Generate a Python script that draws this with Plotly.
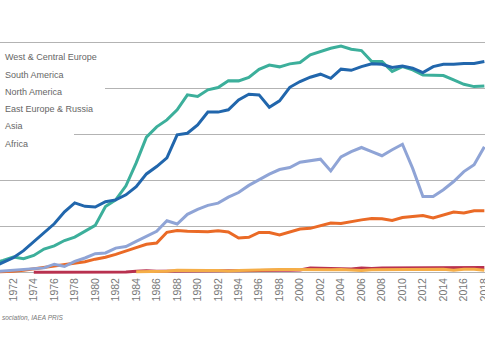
import plotly.graph_objects as go

years = list(range(1970, 2019))

west_central_europe = [42, 53, 68, 61, 75, 103, 117, 140, 155, 180,
                       206, 288, 317, 378, 478, 590, 635, 665, 709, 774,
                       767, 796, 806, 836, 835, 850, 885, 904, 896, 909,
                       915, 948, 963, 977, 987, 973, 967, 919, 919, 876,
                       897, 883, 861, 858, 858, 839, 820, 810, 813]
south_america = [None, None, None, None, 2.4, 2.5, 2.5, 1.9, 2.8, 2.6,
                 2.2, 2.7, 1.9, 3.6, 6.5, 9.0, 5.9, 6.6, 6.6, 5.9,
                 9.2, 9.2, 8.0, 8.2, 8.3, 9.6, 9.6, 11.1, 10.3, 10.8,
                 11.7, 20.8, 19.3, 20.4, 18.6, 16.2, 20.2, 18.3, 20.3, 20.6,
                 20.9, 21.7, 21.3, 20.7, 20.8, 20.7, 23.5, 21.5, 22.3]
north_america = [25, 45, 65, 96, 135, 178, 213, 265, 304, 289,
                 286, 309, 317, 339, 374, 430, 462, 500, 600, 607,
                 643, 699, 699, 709, 752, 777, 774, 720, 748, 807,
                 832, 851, 864, 846, 886, 881, 897, 909, 907, 893,
                 900, 890, 871, 897, 907, 907, 911, 911, 919]
east_europe_russia = [3, 4, 6, 11, 17, 24, 28, 35, 41, 48,
                      59, 67, 80, 96, 109, 124, 129, 176, 184, 180,
                      178, 178, 183, 177, 151, 154, 175, 175, 164, 177,
                      190, 193, 204, 216, 214, 223, 230, 236, 235, 227,
                      240, 245, 249, 238, 252, 264, 260, 270, 270]
asia = [4, 8, 10, 14, 17, 21, 37, 27, 49, 64,
        83, 86, 107, 114, 136, 158, 180, 226, 212, 254,
        276, 293, 303, 329, 349, 380, 404, 429, 449, 458,
        481, 487, 494, 443, 504, 527, 545, 527, 509, 535,
        559, 454, 332, 332, 361, 397, 440, 470, 548]
africa = [None] * 14 + [4.5, 5.2, 8.9, 6.7, 10.6, 11.1,
                        8.4, 9.1, 9.3, 7.2, 9.7, 11.3, 11.7, 12.6, 13.6, 13.5,
                        13.0, 10.7, 12.0, 12.7, 14.3, 12.2, 10.1, 12.6, 12.7, 11.6,
                        12.9, 12.9, 12.4, 13.6, 14.8, 11.0, 15.2, 15.1, 10.6]

series_names = ["West & Central Europe", "South America", "North America",
                "East Europe & Russia", "Asia", "Africa"]
series_values = [west_central_europe, south_america, north_america,
                 east_europe_russia, asia, africa]
series_colors = ["#3caf9b", "#b8314f", "#2166ac", "#ea6a26", "#8fa4d6", "#f5ae48"]

tick_years = list(range(1972, 2019, 2))
tick_labels = [str(y) for y in tick_years]
source_text = "sociation, IAEA PRIS"

W, H = 485, 360
PLOT_H = 275
X0 = 1970.70
PX_PER_YEAR = 10.24

fig = go.Figure()
for name, vals, color in zip(series_names, series_values, series_colors):
    fig.add_trace(go.Scatter(x=years, y=vals, mode="lines", name=name,
                             line=dict(color=color, width=3),
                             showlegend=False))

def py(pix):
    return 1 - pix / PLOT_H

annotations = []
row_y = [57.3, 74.6, 91.9, 109.2, 126.5, 143.8]
for name, ry in zip(series_names, row_y):
    annotations.append(dict(text=name, xref="paper", yref="paper",
                            x=3 / W, y=py(ry), xanchor="left", yanchor="middle",
                            showarrow=False,
                            font=dict(family="Liberation Sans, Arial", size=9, color="#666666")))
annotations.append(dict(text="<i>" + source_text + "</i>", xref="paper", yref="paper",
                        x=0, y=py(317), xanchor="left", yanchor="middle",
                        showarrow=False,
                        font=dict(family="Liberation Sans, Arial", size=6.5, color="#777777")))

def xd(pix):
    return X0 + pix / PX_PER_YEAR

shapes = [
    dict(type="rect", xref="x", yref="y", x0=X0 - 1, x1=xd(105), y0=770, y1=830,
         fillcolor="white", line=dict(width=0), layer="above"),
    dict(type="rect", xref="x", yref="y", x0=X0 - 1, x1=xd(74), y0=570, y1=630,
         fillcolor="white", line=dict(width=0), layer="above"),
]

fig.update_layout(
    template="none",
    width=W, height=H,
    margin=dict(l=0, r=0, t=0, b=H - PLOT_H, pad=0),
    paper_bgcolor="white", plot_bgcolor="white",
    font=dict(family="Liberation Sans, Arial", color="#666666"),
    showlegend=False,
    annotations=annotations,
    shapes=shapes,
    xaxis=dict(range=[X0, X0 + W / PX_PER_YEAR], tickmode="array",
               tickvals=tick_years, ticktext=tick_labels, tickangle=-90,
               showgrid=False, zeroline=False, showline=False, ticks="",
               automargin=False, ticklabeloverflow="allow",
               tickfont=dict(size=10.5, color="#777777")),
    yaxis=dict(range=[-10, 1187], tick0=0, dtick=200, showgrid=True,
               gridcolor="#b3b3b3", gridwidth=1, zeroline=False,
               showticklabels=False, ticks="", showline=False, automargin=False),
)

fig.write_html("out.html", config={"displayModeBar": False},
               post_script="document.body.style.margin='0';document.body.style.overflow='hidden';")
